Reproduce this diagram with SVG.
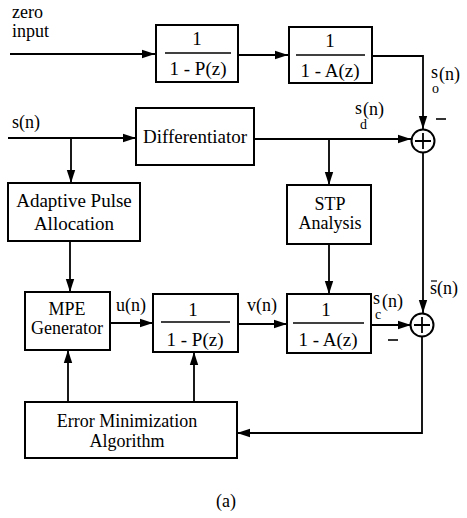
<svg xmlns="http://www.w3.org/2000/svg" width="467" height="518" viewBox="0 0 467 518">
  <style>
    .box { fill: #fff; stroke: #000; stroke-width: 2; }
    .ln { fill: none; stroke: #000; stroke-width: 1.8; }
    .frac { stroke: #000; stroke-width: 1.6; }
    text { font-family: "Liberation Serif", "Times New Roman", serif; fill: #000; }
    .t { font-size: 19px; text-anchor: middle; }
    .t2 { font-size: 18px; text-anchor: middle; }
    .lbl { font-size: 18px; }
    .sub { font-size: 14px; }
  </style>
  <defs>
    <marker id="arrow" markerUnits="userSpaceOnUse" markerWidth="14" markerHeight="10" refX="13" refY="5" orient="auto">
      <path d="M0,0.8 L13,5 L0,9.2 Z" fill="#000"/>
    </marker>
  </defs>

  <rect width="467" height="518" fill="#fff"/>

  <!-- connectors -->
  <g id="connectors">
    <path class="ln" d="M10,54 H155" marker-end="url(#arrow)"/>
    <path class="ln" d="M238,55 H288" marker-end="url(#arrow)"/>
    <path class="ln" d="M372,56 H423 V129" marker-end="url(#arrow)"/>
    <path class="ln" d="M8,138 H136" marker-end="url(#arrow)"/>
    <path class="ln" d="M71,138 V183" marker-end="url(#arrow)"/>
    <path class="ln" d="M254,139 H411" marker-end="url(#arrow)"/>
    <path class="ln" d="M329,139 V185" marker-end="url(#arrow)"/>
    <path class="ln" d="M70,241 V292" marker-end="url(#arrow)"/>
    <path class="ln" d="M329,244 V294" marker-end="url(#arrow)"/>
    <path class="ln" d="M423,153 V313" marker-end="url(#arrow)"/>
    <path class="ln" d="M110,323 H153" marker-end="url(#arrow)"/>
    <path class="ln" d="M238,324 H287" marker-end="url(#arrow)"/>
    <path class="ln" d="M371,325 H411" marker-end="url(#arrow)"/>
    <path class="ln" d="M422,337 V433 H237" marker-end="url(#arrow)"/>
    <path class="ln" d="M68,402 V350" marker-end="url(#arrow)"/>
    <path class="ln" d="M194,402 V352" marker-end="url(#arrow)"/>
  </g>

  <!-- zero-input excitation filter 1/(1-P(z)) -->
  <g id="pitch-filter-top">
    <rect class="box" x="156" y="25" width="82" height="57"/>
    <line class="frac" x1="165" y1="53" x2="231" y2="53"/>
    <text class="t" x="197" y="45">1</text>
    <text class="t" x="198" y="75">1 - P(z)</text>
  </g>

  <!-- zero-input synthesis filter 1/(1-A(z)) -->
  <g id="lpc-filter-top">
    <rect class="box" x="289" y="27" width="83" height="56"/>
    <line class="frac" x1="296" y1="55" x2="365" y2="55"/>
    <text class="t" x="330" y="47">1</text>
    <text class="t" x="330" y="77">1 - A(z)</text>
  </g>

  <g id="differentiator">
    <rect class="box" x="136" y="108" width="118" height="57"/>
    <text class="t" x="195" y="143">Differentiator</text>
  </g>

  <g id="adaptive-pulse">
    <rect class="box" x="8" y="183" width="132" height="58"/>
    <text class="t" x="74" y="207">Adaptive Pulse</text>
    <text class="t" x="74" y="230">Allocation</text>
  </g>

  <g id="stp-analysis">
    <rect class="box" x="287" y="185" width="84" height="59"/>
    <text class="t2" x="330" y="210">STP</text>
    <text class="t2" x="330" y="229">Analysis</text>
  </g>

  <g id="mpe-generator">
    <rect class="box" x="25" y="292" width="85" height="58"/>
    <text class="t2" x="67" y="315">MPE</text>
    <text class="t2" x="67" y="334">Generator</text>
  </g>

  <g id="pitch-filter">
    <rect class="box" x="153" y="294" width="85" height="58"/>
    <line class="frac" x1="161" y1="322" x2="230" y2="322"/>
    <text class="t" x="193" y="316">1</text>
    <text class="t" x="195" y="346">1 - P(z)</text>
  </g>

  <g id="lpc-filter">
    <rect class="box" x="287" y="294" width="84" height="59"/>
    <line class="frac" x1="293" y1="323" x2="364" y2="323"/>
    <text class="t" x="326" y="316">1</text>
    <text class="t" x="328" y="346">1 - A(z)</text>
  </g>

  <g id="error-minimization">
    <rect class="box" x="25" y="402" width="212" height="56"/>
    <text class="t2" x="127" y="427">Error Minimization</text>
    <text class="t2" x="127" y="447">Algorithm</text>
  </g>

  <!-- summing junctions -->
  <g id="sum-top">
    <circle cx="423" cy="141" r="11.5" fill="#fff" stroke="#000" stroke-width="2"/>
    <path class="ln" d="M415,141 H431 M423,133 V149"/>
  </g>
  <g id="sum-bottom">
    <circle cx="422" cy="325" r="11.5" fill="#fff" stroke="#000" stroke-width="2"/>
    <path class="ln" d="M414,325 H430 M422,317 V333"/>
  </g>

  <!-- signal labels -->
  <g id="labels">
    <text class="lbl" x="12" y="18">zero</text>
    <text class="lbl" x="12" y="37">input</text>
    <text class="lbl" x="12" y="128">s(n)</text>

    <text class="lbl" x="431" y="78">s</text>
    <text class="sub" x="432" y="93">o</text>
    <text class="lbl" x="439" y="80">(n)</text>
    <line class="frac" x1="436" y1="119" x2="446" y2="119"/>

    <text class="lbl" x="355" y="114">s</text>
    <text class="sub" x="360" y="129">d</text>
    <text class="lbl" x="363" y="115">(n)</text>

    <text class="lbl" x="116" y="311">u(n)</text>
    <text class="lbl" x="247" y="311">v(n)</text>

    <text class="lbl" x="373" y="304">s</text>
    <text class="sub" x="375" y="319">c</text>
    <text class="lbl" x="382" y="307">(n)</text>
    <line class="frac" x1="388" y1="340" x2="398" y2="340"/>

    <text class="lbl" x="430" y="294">s(n)</text>
    <line x1="431" y1="281" x2="437" y2="281" stroke="#000" stroke-width="1.2"/>

    <text class="lbl" x="216" y="507">(a)</text>
  </g>
</svg>
